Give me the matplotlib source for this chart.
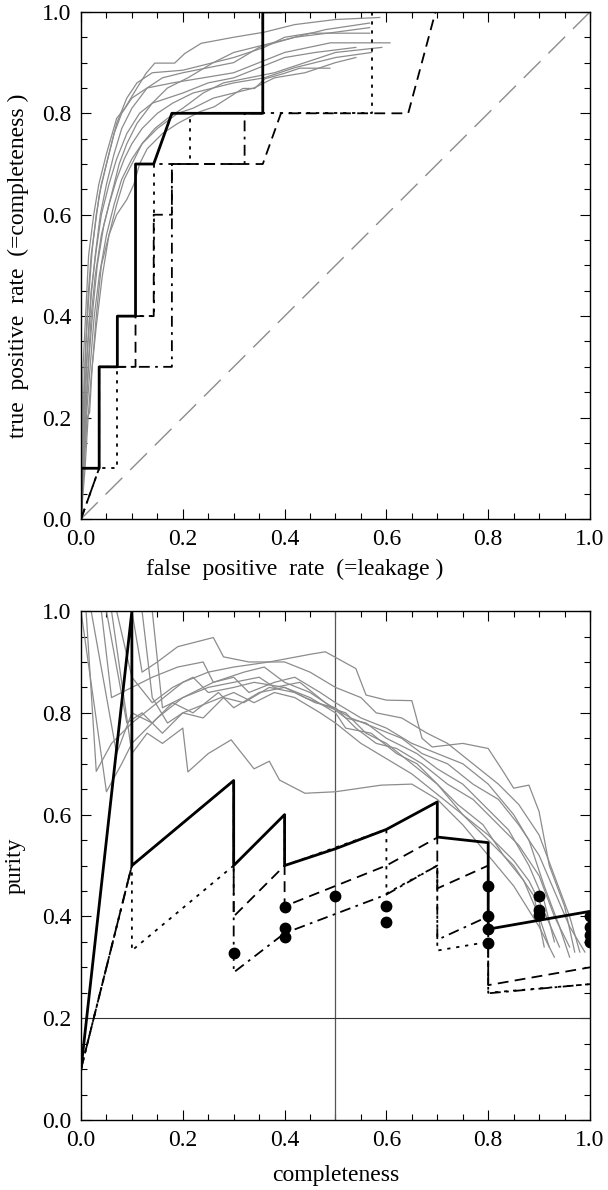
import matplotlib
matplotlib.use("Agg")
import matplotlib.pyplot as plt
from matplotlib.ticker import MultipleLocator, FormatStrFormatter

plt.rcParams['font.family'] = ['Liberation Serif', 'DejaVu Serif']

# ---- top panel: ROC curves (false positive rate, true positive rate) ----
roc_grey = [
    [(0, 0), (0.002, 0.15), (0.004, 0.3), (0.01, 0.42), (0.015, 0.52), (0.025, 0.6), (0.035, 0.66), (0.05, 0.72),
     (0.07, 0.79), (0.086, 0.81), (0.11, 0.85), (0.128, 0.879), (0.145, 0.899), (0.184, 0.899), (0.204, 0.918),
     (0.236, 0.938), (0.3, 0.95), (0.36, 0.96), (0.42, 0.975), (0.5, 0.985), (0.587, 0.989)],
    [(0, 0), (0.003, 0.12), (0.006, 0.25), (0.01, 0.35), (0.016, 0.45), (0.022, 0.53), (0.03, 0.6), (0.04, 0.66),
     (0.055, 0.72), (0.07, 0.78), (0.09, 0.83), (0.11, 0.86), (0.14, 0.88), (0.2, 0.885), (0.26, 0.9), (0.3, 0.92),
     (0.36, 0.935), (0.42, 0.95), (0.48, 0.965), (0.567, 0.978)],
    [(0, 0), (0.004, 0.1), (0.008, 0.22), (0.012, 0.32), (0.02, 0.44), (0.028, 0.52), (0.038, 0.6), (0.05, 0.66),
     (0.065, 0.72), (0.08, 0.77), (0.1, 0.81), (0.13, 0.85), (0.16, 0.87), (0.2, 0.88), (0.25, 0.89), (0.3, 0.9),
     (0.35, 0.93), (0.42, 0.95), (0.5, 0.96), (0.567, 0.969)],
    [(0, 0), (0.005, 0.12), (0.01, 0.22), (0.016, 0.32), (0.024, 0.42), (0.032, 0.5), (0.045, 0.58), (0.06, 0.64),
     (0.075, 0.7), (0.09, 0.74), (0.11, 0.78), (0.14, 0.82), (0.17, 0.85), (0.21, 0.87), (0.26, 0.9), (0.3, 0.91),
     (0.36, 0.93), (0.4, 0.95), (0.45, 0.958), (0.567, 0.958)],
    [(0, 0), (0.002, 0.1), (0.005, 0.22), (0.009, 0.34), (0.014, 0.44), (0.02, 0.52), (0.028, 0.58), (0.036, 0.64),
     (0.05, 0.7), (0.065, 0.76), (0.08, 0.8), (0.1, 0.83), (0.13, 0.85), (0.18, 0.86), (0.24, 0.87), (0.3, 0.88),
     (0.35, 0.9), (0.4, 0.92), (0.49, 0.939), (0.607, 0.939)],
    [(0, 0), (0.004, 0.14), (0.008, 0.26), (0.014, 0.36), (0.02, 0.45), (0.03, 0.53), (0.04, 0.6), (0.055, 0.66),
     (0.07, 0.71), (0.09, 0.76), (0.115, 0.8), (0.14, 0.82), (0.17, 0.83), (0.2, 0.84), (0.25, 0.86), (0.3, 0.87),
     (0.35, 0.89), (0.4, 0.91), (0.46, 0.92), (0.54, 0.93)],
    [(0, 0), (0.006, 0.12), (0.012, 0.22), (0.018, 0.3), (0.026, 0.4), (0.036, 0.48), (0.05, 0.56), (0.065, 0.62),
     (0.08, 0.67), (0.1, 0.71), (0.12, 0.74), (0.145, 0.77), (0.17, 0.79), (0.2, 0.81), (0.24, 0.84), (0.28, 0.86),
     (0.33, 0.87), (0.38, 0.88), (0.44, 0.9), (0.5, 0.92), (0.591, 0.93)],
    [(0, 0), (0.004, 0.1), (0.009, 0.2), (0.014, 0.3), (0.02, 0.4), (0.028, 0.48), (0.04, 0.56), (0.055, 0.62),
     (0.07, 0.67), (0.085, 0.71), (0.1, 0.74), (0.12, 0.77), (0.15, 0.8), (0.18, 0.82), (0.22, 0.84), (0.26, 0.85),
     (0.3, 0.86), (0.36, 0.87), (0.42, 0.89), (0.5, 0.91), (0.571, 0.92)],
    [(0, 0), (0.008, 0.1), (0.014, 0.2), (0.02, 0.28), (0.03, 0.38), (0.042, 0.48), (0.055, 0.56), (0.07, 0.62),
     (0.085, 0.67), (0.1, 0.7), (0.12, 0.74), (0.15, 0.77), (0.19, 0.8), (0.22, 0.81), (0.26, 0.83), (0.3, 0.84),
     (0.34, 0.85), (0.38, 0.87), (0.44, 0.88), (0.5, 0.9), (0.54, 0.91)],
    [(0, 0), (0.012, 0.2), (0.017, 0.21), (0.022, 0.3), (0.03, 0.4), (0.04, 0.5), (0.055, 0.56), (0.07, 0.6),
     (0.09, 0.63), (0.104, 0.66), (0.115, 0.7), (0.13, 0.73), (0.16, 0.76), (0.19, 0.78), (0.233, 0.803),
     (0.262, 0.813), (0.318, 0.849), (0.341, 0.849), (0.361, 0.868), (0.397, 0.878), (0.43, 0.889), (0.489, 0.889)],
]

# black ROC curves, x in units of 1/28
roc_solid_x = [0, 0, 1, 1, 2, 2, 3, 3, 4, 5, 10, 10, 11]
roc_solid_y = [0, 0.1, 0.1, 0.3, 0.3, 0.4, 0.4, 0.7, 0.7, 0.8, 0.8, 1.0, 1.0]
roc_dashed_x = [0, 1, 1, 3, 3, 4, 4, 5, 5, 10, 11, 18, 19.5, 20.5]
roc_dashed_y = [0, 0.1, 0.3, 0.3, 0.4, 0.4, 0.6, 0.6, 0.7, 0.7, 0.8, 0.8, 1.0, 1.0]
roc_dotted_x = [0, 0, 2, 2, 2, 4, 4, 6, 6, 16, 16, 17]
roc_dotted_y = [0, 0.1, 0.1, 0.3, 0.4, 0.4, 0.7, 0.7, 0.8, 0.8, 1.0, 1.0]
roc_dashdot_x = [0, 1, 1, 5, 5, 9, 9, 10, 10, 11]
roc_dashdot_y = [0, 0.1, 0.3, 0.3, 0.7, 0.7, 0.8, 0.8, 1.0, 1.0]
n_negative = 28

# ---- bottom panel: purity vs completeness ----
pr_grey = [
    [(0.01, 1.0), (0.03, 0.685), (0.06, 0.74), (0.1, 0.78), (0.15, 0.82), (0.2, 0.86), (0.25, 0.88), (0.3, 0.89),
     (0.37, 0.9), (0.45, 0.915), (0.48, 0.92), (0.54, 0.887), (0.56, 0.835), (0.6, 0.825), (0.65, 0.824),
     (0.67, 0.75), (0.69, 0.733), (0.75, 0.74), (0.8, 0.73), (0.83, 0.684), (0.85, 0.652), (0.88, 0.658),
     (0.9, 0.606), (0.92, 0.5), (0.95, 0.42), (0.97, 0.33)],
    [(0.0, 1.0), (0.05, 0.645), (0.08, 0.7), (0.1, 0.74), (0.15, 0.79), (0.2, 0.83), (0.26, 0.86), (0.3, 0.87),
     (0.33, 0.84), (0.38, 0.86), (0.42, 0.87), (0.47, 0.84), (0.5, 0.82), (0.55, 0.79), (0.6, 0.77), (0.65, 0.74),
     (0.7, 0.72), (0.75, 0.7), (0.8, 0.66), (0.85, 0.6), (0.88, 0.55), (0.91, 0.46), (0.94, 0.38), (0.96, 0.32)],
    [(0.02, 1.0), (0.07, 0.72), (0.1, 0.8), (0.14, 0.78), (0.18, 0.82), (0.22, 0.8), (0.27, 0.84), (0.3, 0.81),
     (0.35, 0.84), (0.4, 0.85), (0.45, 0.83), (0.5, 0.8), (0.52, 0.77), (0.57, 0.76), (0.62, 0.72), (0.66, 0.7),
     (0.7, 0.66), (0.74, 0.62), (0.79, 0.58), (0.83, 0.52), (0.87, 0.47), (0.9, 0.4), (0.92, 0.34)],
    [(0.04, 1.0), (0.06, 0.83), (0.1, 0.85), (0.14, 0.87), (0.19, 0.89), (0.24, 0.9), (0.26, 0.86), (0.32, 0.88),
     (0.36, 0.89), (0.4, 0.86), (0.45, 0.84), (0.48, 0.82), (0.52, 0.79), (0.56, 0.78), (0.6, 0.75), (0.66, 0.72),
     (0.7, 0.69), (0.75, 0.66), (0.8, 0.61), (0.84, 0.57), (0.88, 0.5), (0.91, 0.43), (0.93, 0.35)],
    [(0.05, 1.0), (0.09, 0.78), (0.12, 0.8), (0.16, 0.76), (0.2, 0.8), (0.24, 0.79), (0.28, 0.83), (0.32, 0.82),
     (0.37, 0.85), (0.42, 0.84), (0.46, 0.82), (0.5, 0.81), (0.54, 0.77), (0.58, 0.74), (0.62, 0.73), (0.67, 0.7),
     (0.72, 0.66), (0.77, 0.63), (0.81, 0.59), (0.86, 0.54), (0.9, 0.48), (0.93, 0.4), (0.96, 0.34)],
    [(0.07, 1.0), (0.1, 0.87), (0.14, 0.82), (0.18, 0.85), (0.22, 0.87), (0.25, 0.84), (0.3, 0.85), (0.34, 0.86),
     (0.4, 0.85), (0.44, 0.83), (0.49, 0.81), (0.52, 0.8), (0.56, 0.76), (0.6, 0.74), (0.65, 0.7), (0.7, 0.66),
     (0.75, 0.6), (0.8, 0.56), (0.85, 0.51), (0.88, 0.47), (0.91, 0.41), (0.94, 0.34)],
    [(0.1, 1.0), (0.12, 0.88), (0.15, 0.9), (0.19, 0.93), (0.26, 0.948), (0.28, 0.91), (0.33, 0.9), (0.4, 0.9),
     (0.45, 0.88), (0.5, 0.85), (0.55, 0.83), (0.58, 0.8), (0.63, 0.79), (0.68, 0.76), (0.72, 0.74), (0.77, 0.7),
     (0.82, 0.66), (0.86, 0.62), (0.9, 0.56), (0.93, 0.48), (0.96, 0.4), (0.98, 0.33)],
    [(0.12, 1.0), (0.14, 0.83), (0.17, 0.78), (0.2, 0.8), (0.25, 0.82), (0.3, 0.84), (0.34, 0.82), (0.38, 0.84),
     (0.42, 0.83), (0.47, 0.8), (0.5, 0.78), (0.55, 0.74), (0.6, 0.71), (0.65, 0.68), (0.7, 0.64), (0.75, 0.6),
     (0.8, 0.55), (0.85, 0.5), (0.89, 0.44), (0.91, 0.34)],
    [(0.14, 1.0), (0.16, 0.81), (0.2, 0.83), (0.25, 0.85), (0.3, 0.86), (0.35, 0.87), (0.38, 0.85), (0.43, 0.86),
     (0.48, 0.82), (0.53, 0.79), (0.58, 0.77), (0.63, 0.75), (0.67, 0.72), (0.72, 0.7), (0.77, 0.66), (0.82, 0.63),
     (0.86, 0.58), (0.9, 0.52), (0.93, 0.45), (0.96, 0.38), (0.99, 0.33)],
    [(0.06, 1.0), (0.1, 0.72), (0.13, 0.76), (0.16, 0.74), (0.2, 0.77), (0.21, 0.684), (0.25, 0.72), (0.295, 0.747),
     (0.34, 0.69), (0.37, 0.705), (0.39, 0.668), (0.44, 0.642), (0.5, 0.645), (0.59, 0.658), (0.65, 0.66),
     (0.7, 0.63), (0.75, 0.58), (0.8, 0.52), (0.85, 0.46), (0.9, 0.38), (0.93, 0.32)],
]

pr_solid_x = [0, 0.1, 0.1, 0.3, 0.3, 0.4, 0.4, 0.5, 0.6, 0.7, 0.7, 0.8, 0.8, 1.0]
pr_solid_y = [0.1, 1.0, 0.5, 0.667, 0.5, 0.6, 0.5, 0.533, 0.571, 0.625, 0.556, 0.545, 0.375, 0.41]
pr_dashed_x = [0, 0.1, 0.3, 0.3, 0.4, 0.4, 0.6, 0.7, 0.7, 0.8, 0.8, 1.0]
pr_dashed_y = [0.1, 0.5, 0.667, 0.4, 0.5, 0.42, 0.5, 0.555, 0.455, 0.5, 0.265, 0.30]
pr_dashdot_x = [0, 0.1, 0.3, 0.3, 0.4, 0.6, 0.7, 0.7, 0.8, 0.8, 1.0]
pr_dashdot_y = [0.1, 0.5, 0.667, 0.29, 0.367, 0.443, 0.5, 0.354, 0.4, 0.249, 0.267]
pr_dotted_x = [0, 0.1, 0.1, 0.3, 0.4, 0.4, 0.6, 0.6, 0.7, 0.7, 0.8, 0.8, 1.0]
pr_dotted_y = [0.1, 0.5, 0.333, 0.5, 0.6, 0.5, 0.571, 0.445, 0.5, 0.333, 0.35, 0.25, 0.267]

dots_x = [0.3, 0.4, 0.4, 0.4, 0.5, 0.6, 0.6, 0.8, 0.8, 0.8, 0.8, 0.9, 0.9, 0.9, 1.0, 1.0, 1.0, 1.0]
dots_y = [0.329, 0.419, 0.377, 0.36, 0.44, 0.42, 0.39, 0.46, 0.40, 0.375, 0.348, 0.44, 0.413, 0.403,
          0.40, 0.38, 0.363, 0.35]

GREY = '#8c8c8c'
DOTTED = (0, (1.8, 3.2))
DASHED = (0, (6, 3.5))
DASHDOT = (0, (6, 3, 1.5, 3))
FS = 17


def style_axes(ax):
    ax.set_xlim(0, 1)
    ax.set_ylim(0, 1)
    ax.xaxis.set_major_locator(MultipleLocator(0.2))
    ax.yaxis.set_major_locator(MultipleLocator(0.2))
    ax.xaxis.set_minor_locator(MultipleLocator(0.05))
    ax.yaxis.set_minor_locator(MultipleLocator(0.05))
    ax.tick_params(which='both', direction='in', top=True, right=True, width=0.8, labelsize=FS)
    ax.tick_params(which='major', length=7, pad=7)
    ax.tick_params(which='minor', length=4)
    ax.xaxis.set_major_formatter(FormatStrFormatter('%.1f'))
    ax.yaxis.set_major_formatter(FormatStrFormatter('%.1f'))
    for s in ax.spines.values():
        s.set_linewidth(1.0)


fig = plt.figure(figsize=(6.08, 11.9), dpi=100)
ax1 = fig.add_axes([0.1332, 0.5639, 0.8372, 0.4261])
ax2 = fig.add_axes([0.1332, 0.0588, 0.8372, 0.4277])

# top
ax1.plot([0, 1], [0, 1], color=GREY, lw=1.0, linestyle=(0, (17, 8)))
for c in roc_grey:
    ax1.plot([p[0] for p in c], [p[1] for p in c], color=GREY, lw=0.9)
ax1.plot([v / n_negative for v in roc_dotted_x], roc_dotted_y, color='black', lw=1.3, linestyle=DOTTED)
ax1.plot([v / n_negative for v in roc_dashdot_x], roc_dashdot_y, color='black', lw=1.3, linestyle=DASHDOT)
ax1.plot([v / n_negative for v in roc_dashed_x], roc_dashed_y, color='black', lw=1.3, linestyle=DASHED)
ax1.plot([v / n_negative for v in roc_solid_x], roc_solid_y, color='black', lw=2.0)
style_axes(ax1)
ax1.set_xlabel('false  positive  rate  (=leakage )', fontsize=FS)
ax1.xaxis.set_label_coords(0.42, -0.078)
ax1.set_ylabel('true  positive  rate  (=completeness )', fontsize=FS, labelpad=9)

# bottom
ax2.axvline(0.5, color='#555555', lw=0.9)
ax2.axhline(0.2, color='#333333', lw=0.8)
for c in pr_grey:
    ax2.plot([p[0] for p in c], [p[1] for p in c], color=GREY, lw=0.9)
ax2.plot(pr_dotted_x, pr_dotted_y, color='black', lw=1.3, linestyle=DOTTED)
ax2.plot(pr_dashdot_x, pr_dashdot_y, color='black', lw=1.3, linestyle=DASHDOT)
ax2.plot(pr_dashed_x, pr_dashed_y, color='black', lw=1.3, linestyle=DASHED)
ax2.plot(pr_solid_x, pr_solid_y, color='black', lw=2.0)
ax2.plot(dots_x, dots_y, 'o', color='black', markersize=7.5, zorder=5)
style_axes(ax2)
ax2.set_xlabel('completeness', fontsize=FS, labelpad=10)
ax2.set_ylabel('purity', fontsize=FS, labelpad=12)

fig.savefig('out.png', dpi=100)
